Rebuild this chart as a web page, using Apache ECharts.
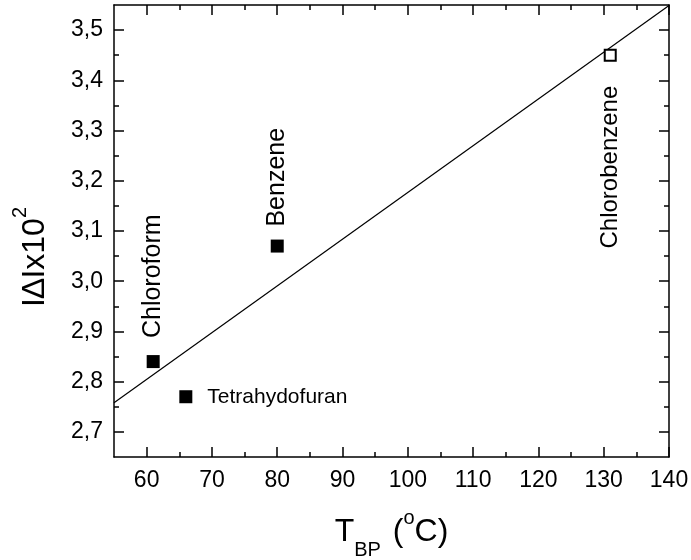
<!DOCTYPE html>
<html>
<head>
<meta charset="utf-8">
<script src="https://cdn.jsdelivr.net/npm/echarts@6/dist/echarts.min.js"></script>
<style>
  html, body { margin: 0; padding: 0; background: #fff; }
  #chart { width: 691px; height: 560px; }
</style>
</head>
<body>
<div id="chart"></div>
<script>
// Solvents: boiling point vs |ΔI|×10²
const solvents = ['Chloroform', 'Tetrahydofuran', 'Benzene', 'Chlorobenzene'];
const boilingPoint = [61, 66, 80, 131];
const deltaI = [2.84, 2.77, 3.07, 3.45];

// Linear fit endpoints across the x range
const fitX = [55, 140];
const fitY = [2.758, 3.549];

// Axis ranges and tick values
const xRange = [55, 140];
const yRange = [2.65, 3.55];
const xMajor = [60, 70, 80, 90, 100, 110, 120, 130, 140];
const xMinor = [65, 75, 85, 95, 105, 115, 125, 135];
const yMajor = [2.7, 2.8, 2.9, 3.0, 3.1, 3.2, 3.3, 3.4, 3.5];
const yMinor = [2.75, 2.85, 2.95, 3.05, 3.15, 3.25, 3.35, 3.45];

const FONT = 'Liberation Sans, Arial, sans-serif';
const black = '#000';

function xAxisDef(pos, ticks, len, withLine, withLabels) {
  return {
    type: 'value', position: pos, min: xRange[0], max: xRange[1],
    splitLine: { show: false },
    axisLine: { show: withLine, onZero: false, lineStyle: { color: black, width: 1.5 } },
    axisTick: { show: true, inside: true, length: len, customValues: ticks,
                lineStyle: { color: black, width: 1.5 } },
    axisLabel: withLabels
      ? { show: true, customValues: ticks, color: black, fontSize: 23, fontFamily: FONT, margin: 12 }
      : { show: false }
  };
}
function yAxisDef(pos, ticks, len, withLine, withLabels) {
  return {
    type: 'value', position: pos, min: yRange[0], max: yRange[1],
    splitLine: { show: false },
    axisLine: { show: withLine, onZero: false, lineStyle: { color: black, width: 1.5 } },
    axisTick: { show: true, inside: true, length: len, customValues: ticks,
                lineStyle: { color: black, width: 1.5 } },
    axisLabel: withLabels
      ? { show: true, customValues: ticks, color: black, fontSize: 23, fontFamily: FONT, margin: 11,
          formatter: v => v.toFixed(1).replace('.', ',') }
      : { show: false }
  };
}

const xAxes = [
  xAxisDef('bottom', xMajor, 10, true, true),
  xAxisDef('bottom', xMinor, 5, false, false),
  xAxisDef('top', xMajor, 10, true, false),
  xAxisDef('top', xMinor, 5, false, false)
];
xAxes[0].name = '{t|T}{sub|BP}{t| (}{sup|o}{t|C)}';
xAxes[0].nameLocation = 'middle';
xAxes[0].nameGap = 55;
xAxes[0].nameTextStyle = {
  color: black, fontFamily: FONT,
  rich: {
    t: { fontSize: 32, fontFamily: FONT, color: black, lineHeight: 40, verticalAlign: 'middle' },
    sub: { fontSize: 20, fontFamily: FONT, color: black, lineHeight: 40, verticalAlign: 'middle', padding: [36, 3, 0, 0] },
    sup: { fontSize: 20, fontFamily: FONT, color: black, lineHeight: 40, verticalAlign: 'middle', padding: [0, 0, 27, 0] }
  }
};

const yAxes = [
  yAxisDef('left', yMajor, 10, true, true),
  yAxisDef('left', yMinor, 5, false, false),
  yAxisDef('right', yMajor, 10, true, false),
  yAxisDef('right', yMinor, 5, false, false)
];
yAxes[0].name = '{t|I\u2206Ix10}{sup|2}';
yAxes[0].nameLocation = 'middle';
yAxes[0].nameGap = 54;
yAxes[0].nameTextStyle = {
  color: black, fontFamily: FONT,
  padding: [0, 52, 0, 0],
  rich: {
    t: { fontSize: 32, fontFamily: FONT, color: black, lineHeight: 40, verticalAlign: 'middle' },
    sup: { fontSize: 20, fontFamily: FONT, color: black, lineHeight: 40, verticalAlign: 'middle', padding: [0, 0, 30, 0] }
  }
};

// Per-point label placement
const labelCfg = [
  { position: 'top', distance: 17, rotate: 90, align: 'left', verticalAlign: 'middle', fontSize: 25 },
  { position: 'right', distance: 15, rotate: 0, align: 'left', verticalAlign: 'middle', fontSize: 21 },
  { position: 'top', distance: 13, rotate: 90, align: 'left', verticalAlign: 'middle', fontSize: 25 },
  { position: 'bottom', distance: 24, rotate: 90, align: 'right', verticalAlign: 'middle', fontSize: 24 }
];

const points = solvents.map((name, i) => {
  const lc = labelCfg[i];
  const hollow = i === 3;
  return {
    name: name,
    value: [boilingPoint[i], deltaI[i]],
    symbolSize: hollow ? 11 : 13,
    itemStyle: hollow
      ? { color: '#fff', borderColor: black, borderWidth: 2, opacity: 1 }
      : { color: black, opacity: 1 },
    label: {
      show: true, formatter: name, position: lc.position, distance: lc.distance,
      rotate: lc.rotate, align: lc.align, verticalAlign: lc.verticalAlign,
      fontSize: lc.fontSize, fontFamily: FONT, color: black
    }
  };
});

const chart = echarts.init(document.getElementById('chart'), null, { renderer: 'canvas' });
chart.setOption({
  backgroundColor: '#fff',
  animation: false,
  grid: { left: 114, right: 22, top: 5, bottom: 103, containLabel: false, outerBoundsMode: 'none' },
  xAxis: xAxes,
  yAxis: yAxes,
  series: [
    {
      type: 'line', xAxisIndex: 0, yAxisIndex: 0,
      data: fitX.map((x, i) => [x, fitY[i]]),
      showSymbol: false, symbol: 'none',
      lineStyle: { color: black, width: 1.2 },
      silent: true, z: 2
    },
    {
      type: 'scatter', xAxisIndex: 0, yAxisIndex: 0,
      symbol: 'rect',
      itemStyle: { opacity: 1 },
      data: points,
      z: 3
    }
  ]
});
</script>
</body>
</html>
